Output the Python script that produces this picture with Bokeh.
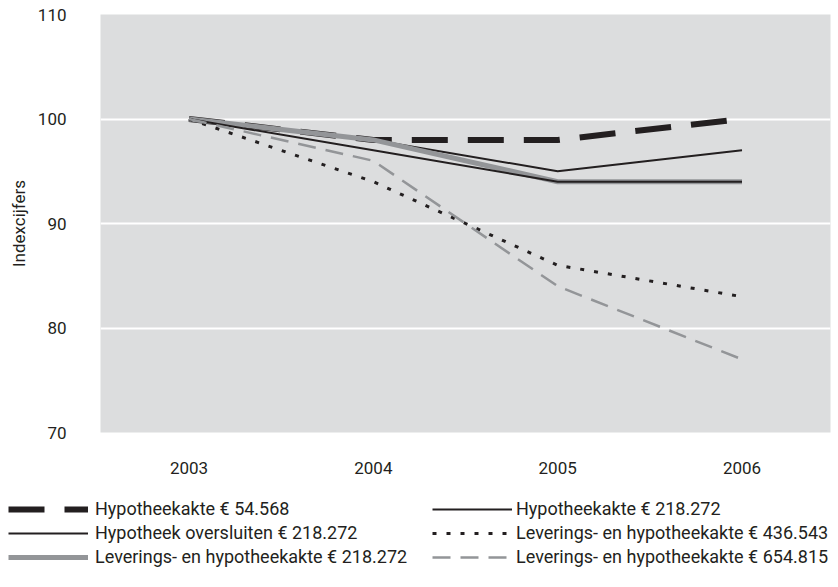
from bokeh.plotting import figure
from bokeh.layouts import column
from bokeh.models import Range1d, FixedTicker, Legend, LegendItem
from bokeh.embed import file_html
from bokeh.resources import INLINE

# Index figures (2003 = 100)
years = [2003, 2004, 2005, 2006]
hypotheekakte_54568 = [100, 98, 98, 100]
hypotheekakte_218272 = [100, 98, 95, 97]
oversluiten_218272 = [100, 97, 94, 94]
levering_218272 = [100, 98, 94, 94]
levering_436543 = [100, 94, 86, 83]
levering_654815 = [100, 96, 84, 77]

y_ticks = [70, 80, 90, 100, 110]

labels = {
    "h54": "Hypotheekakte \u20ac 54.568",
    "h218": "Hypotheekakte \u20ac 218.272",
    "o218": "Hypotheek oversluiten \u20ac 218.272",
    "l218": "Leverings- en hypotheekakte \u20ac 218.272",
    "l436": "Leverings- en hypotheekakte \u20ac 436.543",
    "l654": "Leverings- en hypotheekakte \u20ac 654.815",
}

INK = "#231f20"
GREY = "#939598"
PANEL = "#dcddde"
FONT = "Roboto"
SIZE = "17px"
KEY_SIZE = "18px"

# Line styles shared by the chart and its key
styles = {
    "h54": dict(line_color=INK, line_width=6, line_dash="36 20", line_cap="butt"),
    "h218": dict(line_color=INK, line_width=2),
    "l218": dict(line_color=GREY, line_width=5),
    "o218": dict(line_color=INK, line_width=2),
    "l436": dict(line_color=INK, line_width=3, line_dash="4 10", line_cap="butt"),
    "l654": dict(line_color=GREY, line_width=2.5, line_dash="18 10", line_cap="butt"),
}
series = {
    "h54": hypotheekakte_54568,
    "h218": hypotheekakte_218272,
    "l218": levering_218272,
    "o218": oversluiten_218272,
    "l436": levering_436543,
    "l654": levering_654815,
}

p = figure(
    width=838, height=490,
    x_range=Range1d(2002.52, 2006.48), y_range=Range1d(70, 110),
    output_backend="svg", toolbar_location=None,
    min_border_left=100, min_border_right=8,
    min_border_top=14, min_border_bottom=58,
)
p.frame_align = False
p.background_fill_color = PANEL
p.border_fill_color = "white"
p.outline_line_color = None

p.xgrid.grid_line_color = None
p.ygrid.grid_line_color = "white"
p.ygrid.grid_line_width = 2
p.ygrid.ticker = FixedTicker(ticks=y_ticks)

p.yaxis.ticker = FixedTicker(ticks=y_ticks)
p.xaxis.ticker = FixedTicker(ticks=years)
for ax in (p.xaxis, p.yaxis):
    ax.axis_line_color = None
    ax.major_tick_line_color = None
    ax.minor_tick_line_color = None
    ax.major_label_text_font = FONT
    ax.major_label_text_font_size = SIZE
    ax.major_label_text_color = INK
p.xaxis.major_label_standoff = 23
p.yaxis.major_label_standoff = 28
p.yaxis.axis_label = "Indexcijfers"
p.yaxis.axis_label_text_font = FONT
p.yaxis.axis_label_text_font_size = SIZE
p.yaxis.axis_label_text_font_style = "normal"
p.yaxis.axis_label_text_color = INK
p.yaxis.axis_label_standoff = 6

# Series, drawn bottom to top
for key in ["h54", "h218", "l218", "o218", "l436", "l654"]:
    p.line(years, series[key], **styles[key])

# Key below the chart
k = figure(
    width=838, height=97,
    x_range=Range1d(0, 838), y_range=Range1d(0, 97),
    x_axis_location=None, y_axis_location=None,
    output_backend="svg", toolbar_location=None,
    min_border=0, min_border_left=0, min_border_right=0,
    min_border_top=0, min_border_bottom=0,
    outline_line_color=None,
)
k.frame_align = False
k.grid.visible = False
nan = float("nan")
key_glyphs = {key: k.line([nan, nan], [nan, nan], **styles[key]) for key in styles}


def make_legend(keys, x_off, standoff):
    leg = Legend(
        items=[LegendItem(label=labels[key], renderers=[key_glyphs[key]])
               for key in keys],
        location=(x_off, 20),
        orientation="vertical",
        glyph_width=80, glyph_height=20, label_height=20,
        label_standoff=standoff, spacing=3, padding=0, margin=0,
        border_line_color=None, background_fill_alpha=0,
        label_text_font=FONT, label_text_font_size=KEY_SIZE,
        label_text_color=INK,
    )
    k.add_layout(leg, "center")


make_legend(["h54", "o218", "l218"], 8, 7)
make_legend(["h218", "l436", "l654"], 432, 4)

open("out.html", "w").write(file_html(column(p, k), INLINE))
